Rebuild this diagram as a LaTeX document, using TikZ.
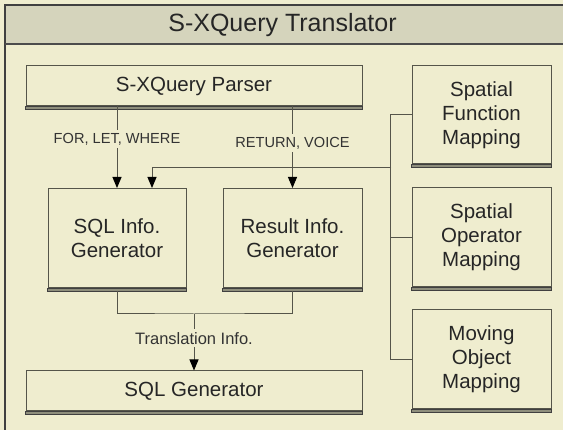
\documentclass[tikz,border=0pt]{standalone}
\usepackage{fontspec}
\setmainfont{Liberation Sans}
\usetikzlibrary{arrows.meta}
\definecolor{bodybg}{HTML}{EFEDCF}
\definecolor{titlebg}{HTML}{D5D4BC}
\definecolor{linec}{HTML}{55554A}
\definecolor{shadc}{HTML}{8E8E7C}
\tikzset{
  box/.style={draw=linec, line width=1pt, fill=bodybg, rectangle, inner sep=0pt, align=center,
    font=\fontsize{20.5}{24}\selectfont, text=black!85},
  lbl/.style={fill=bodybg, inner sep=3pt, font=\fontsize{14.6}{17}\selectfont, text=black!80},
  conn/.style={draw=linec, line width=1pt},
  arr/.style={conn, -{Triangle[length=11pt,width=9pt,color=black]}},
  shad/.style={draw=black!75, line width=0.8pt, fill=shadc}
}
\begin{document}
\begin{tikzpicture}[x=1pt,y=-1pt]
\useasboundingbox (0,0) rectangle (563,430);
\fill[bodybg] (0,0) rectangle (563,430);
% frame
\fill[titlebg] (5,5) rectangle (575,44);
\draw[black!75, line width=1.2pt] (5,440) -- (5,5) -- (575,5);
\draw[black!70, line width=2pt] (5,44) -- (575,44);
\node[font=\fontsize{25}{30}\selectfont, text=black!85] (title) at (282.5,25) {S-XQuery Translator};
% boxes
\node[box, minimum width=336pt, minimum height=40pt] (parser) at (194,86) {S-XQuery Parser};
\node[box, minimum width=138pt, minimum height=99pt] (sqlinfo) at (117,238) {SQL Info.\\Generator};
\node[box, minimum width=139pt, minimum height=99pt] (resinfo) at (292.5,238) {Result Info.\\Generator};
\node[box, minimum width=336pt, minimum height=40pt] (sqlgen) at (194,391) {SQL Generator};
\node[box, minimum width=139pt, minimum height=98pt] (sfm) at (481.5,115) {Spatial\\Function\\Mapping};
\node[box, minimum width=139pt, minimum height=99pt] (som) at (481.5,237.5) {Spatial\\Operator\\Mapping};
\node[box, minimum width=139pt, minimum height=99pt] (mom) at (481.5,359.5) {Moving\\Object\\Mapping};
\foreach \n in {parser,sqlinfo,resinfo,sqlgen,sfm,som,mom}{
  \draw[shad] (\n.south west) rectangle ([yshift=-3pt]\n.south east);
}
% parser to generators
\draw[arr] (parser.south -| sqlinfo.north) -- (sqlinfo.north)
  node[lbl, pos=0.4] (l1) {FOR, LET, WHERE};
\draw[arr] (parser.south -| resinfo.north) -- (resinfo.north)
  node[lbl, pos=0.45] (l2) {RETURN, VOICE};
% mapping bus
\coordinate (fb) at (391,168);
\draw[conn] (sfm.west) -- ++(-21,0) |- (mom.west);
\draw[conn] (som.west) -- ++(-21,0);
\draw[arr] (fb) -| ([xshift=35pt]sqlinfo.north);
% join to SQL generator
\coordinate (j) at (194,314);
\draw[conn] ([yshift=-3pt]sqlinfo.south) |- (j) -| ([yshift=-3pt]resinfo.south);
\draw[arr] (j) -- (sqlgen.north)
  node[lbl, pos=0.43, font=\fontsize{16.5}{19}\selectfont] (l3) {Translation Info.};
\end{tikzpicture}
\end{document}
